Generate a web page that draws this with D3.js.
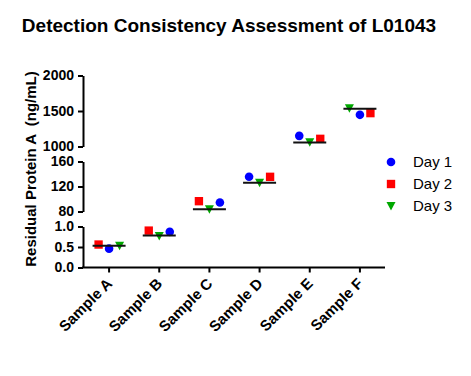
<!DOCTYPE html>
<html>
<head>
<meta charset="utf-8">
<script src="https://cdn.jsdelivr.net/npm/d3@7"></script>
<style>
  body { margin: 0; background: #fff; }
  svg { font-family: Arial, "Liberation Sans", sans-serif; }
</style>
</head>
<body>
<svg id="chart" width="471" height="376"></svg>
<script>
const samples = ["Sample A", "Sample B", "Sample C", "Sample D", "Sample E", "Sample F"];
const days = ["Day 1", "Day 2", "Day 3"];

// values read per sample (ng/mL)
const day1 = [0.46, 0.87, 94.4, 135.5, 1150, 1446];
const day2 = [0.56, 0.90, 96.5, 135.5, 1108, 1470];
const day3 = [0.53, 0.77, 83.5, 126, 1059, 1538];
const centerLine = [0.53, 0.78, 83.7, 126, 1056, 1531];

// left-to-right order of the points inside each sample column
const pointOrder = [
    ["Day 2", "Day 1", "Day 3"],
    ["Day 2", "Day 3", "Day 1"],
    ["Day 2", "Day 3", "Day 1"],
    ["Day 1", "Day 3", "Day 2"],
    ["Day 1", "Day 3", "Day 2"],
    ["Day 3", "Day 1", "Day 2"]
];

// broken y axis pieces
const segDomains = [[0, 1], [80, 160], [1000, 2000]];
const segTicks = [[0, 0.5, 1], [80, 120, 160], [1000, 1500, 2000]];

const seriesValues = { "Day 1": day1, "Day 2": day2, "Day 3": day3 };
const colors = { "Day 1": "#0000ff", "Day 2": "#ff0000", "Day 3": "#00a800" };

const svg = d3.select("#chart");

const axisX = 83;
const yBottom = 267.5;
const segHeights = [41, 50, 71];
const gap = 15;

// build a scale for every segment, stacked from the bottom
let cursor = yBottom;
const segments = segDomains.map((dom, i) => {
    const y0 = cursor;
    const y1 = cursor - segHeights[i];
    cursor = y1 - gap;
    return {
        scale: d3.scaleLinear().domain(dom).range([y0, y1]),
        ticks: segTicks[i],
        format: i === 0 ? d3.format(".1f") : d3.format("d")
    };
});

const yPos = v => {
    const seg = segments.find(s => v >= s.scale.domain()[0] && v <= s.scale.domain()[1])
        || segments.reduce((a, b) => (Math.abs(v - b.scale.domain()[0]) < Math.abs(v - a.scale.domain()[0]) ? b : a));
    return seg.scale(v);
};

const x = d3.scaleBand().domain(samples).range([axisX + 1, 385]);
const inner = d3.scalePoint().domain([0, 1, 2]).range([-10.5, 10.5]);

// title
svg.append("text")
    .attr("x", 229)
    .attr("y", 32)
    .attr("text-anchor", "middle")
    .style("font-size", "19px")
    .style("font-weight", "bold")
    .text("Detection Consistency Assessment of L01043");

// y axis label
svg.append("text")
    .attr("transform", "translate(36,169) rotate(-90)")
    .attr("text-anchor", "middle")
    .style("font-size", "15px")
    .style("font-weight", "bold")
    .style("white-space", "pre")
    .text("Residual Protein A  (ng/mL)");

// y axis segments
segments.forEach(seg => {
    const g = svg.append("g")
        .attr("transform", `translate(${axisX},0)`)
        .call(d3.axisLeft(seg.scale)
            .tickValues(seg.ticks)
            .tickFormat(seg.format)
            .tickSize(5)
            .tickSizeOuter(0)
            .tickPadding(4));
    g.select(".domain").attr("stroke-width", 2);
    g.selectAll(".tick line").attr("stroke-width", 2);
    g.selectAll(".tick text")
        .style("font-size", "14px")
        .style("font-weight", "bold")
        .style("font-family", "Arial, 'Liberation Sans', sans-serif")
        .attr("fill", "#000");
});

// x axis
const gx = svg.append("g")
    .attr("transform", `translate(0,${yBottom})`)
    .call(d3.axisBottom(x).tickSize(5).tickSizeOuter(0));
gx.select(".domain").attr("stroke-width", 2).attr("d", `M${axisX - 1},0H385`);
gx.selectAll(".tick line").attr("stroke-width", 2);
gx.selectAll(".tick text")
    .attr("text-anchor", "end")
    .attr("transform", "translate(4,17) rotate(-45)")
    .attr("x", 0)
    .attr("y", 0)
    .attr("dy", 0)
    .style("font-size", "15px")
    .style("font-weight", "bold")
    .style("font-family", "Arial, 'Liberation Sans', sans-serif")
    .attr("fill", "#000");

// markers
const symbolFor = {
    "Day 1": d3.symbol().type(d3.symbolCircle).size(58),
    "Day 2": d3.symbol().type(d3.symbolSquare).size(70),
    "Day 3": null
};
const drawMarker = (sel, day, cx, cy) => {
    if (day === "Day 3") {
        // downward triangle, bounding box centred on the value
        sel.append("path")
            .attr("d", d3.line()([[cx - 4.5, cy - 4], [cx + 4.5, cy - 4], [cx, cy + 4.5]]) + "Z")
            .attr("fill", colors[day]);
    } else {
        sel.append("path")
            .attr("transform", `translate(${cx},${cy})`)
            .attr("d", symbolFor[day]())
            .attr("fill", colors[day]);
    }
};

const plot = svg.append("g");

samples.forEach((s, i) => {
    const cx = x(s) + x.bandwidth() / 2;
    pointOrder[i].forEach((day, k) => {
        drawMarker(plot, day, cx + inner(k), yPos(seriesValues[day][i]));
    });
});

// centre lines drawn over the points
samples.forEach((s, i) => {
    const cx = x(s) + x.bandwidth() / 2;
    const ly = yPos(centerLine[i]);
    plot.append("line")
        .attr("x1", cx - 16.5)
        .attr("x2", cx + 16.5)
        .attr("y1", ly)
        .attr("y2", ly)
        .attr("stroke", "#111")
        .attr("stroke-width", 2);
});

// legend
const legend = svg.append("g").attr("transform", "translate(391,162)");
days.forEach((day, i) => {
    const row = legend.append("g").attr("transform", `translate(0,${i * 22})`);
    drawMarker(row, day, 0, 0);
    row.append("text")
        .attr("x", 22)
        .attr("y", 5)
        .style("font-size", "15px")
        .text(day);
});
</script>
</body>
</html>
